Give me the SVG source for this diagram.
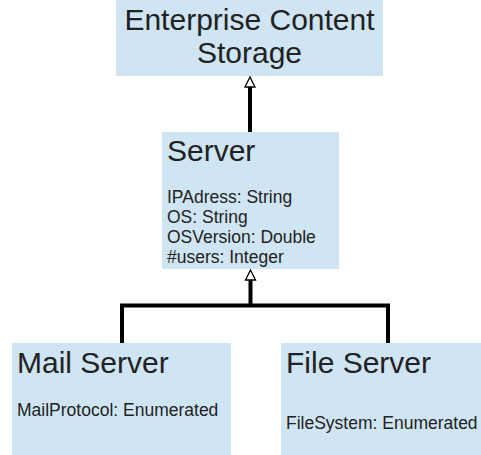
<svg xmlns="http://www.w3.org/2000/svg" width="481" height="455" viewBox="0 0 481 455">
<style>
.box{fill:#cfe5f3;}
.t{font-family:"Liberation Sans",Arial,sans-serif;fill:#222;}
.h{font-size:30px;}
.a{font-size:17.5px;}
.c{fill:none;stroke:#000;stroke-width:4;}
.arr{fill:#fff;stroke:#000;stroke-width:1.3;}
</style>
<rect width="481" height="455" fill="#fff"/>
<g id="ecs">
<rect class="box" x="116" y="0" width="267" height="76"/>
<text class="t h" x="249.5" y="30" text-anchor="middle">Enterprise Content</text>
<text class="t h" x="249.5" y="63" text-anchor="middle">Storage</text>
</g>
<g id="server">
<rect class="box" x="162" y="132" width="177" height="137"/>
<text class="t h" x="167" y="161">Server</text>
<text class="t a" x="167" y="203">IPAdress: String</text>
<text class="t a" x="167" y="223">OS: String</text>
<text class="t a" x="167" y="243">OSVersion: Double</text>
<text class="t a" x="167" y="263">#users: Integer</text>
</g>
<g id="mail">
<rect class="box" x="12" y="343" width="219" height="112"/>
<text class="t h" x="17" y="373">Mail Server</text>
<text class="t a" x="17" y="416">MailProtocol: Enumerated</text>
</g>
<g id="file">
<rect class="box" x="281" y="343" width="200" height="112"/>
<text class="t h" x="286" y="373">File Server</text>
<text class="t a" x="286" y="429">FileSystem: Enumerated</text>
</g>
<g id="connectors">
<path class="c" d="M250 132 V87"/>
<path class="arr" d="M250 77 L255 87 L245 87 Z"/>
<path class="c" d="M122 343 V305.5 H388 V343 M250.5 305.5 V280"/>
<path class="arr" d="M250.5 270 L255.5 280 L245.5 280 Z"/>
</g>
</svg>
